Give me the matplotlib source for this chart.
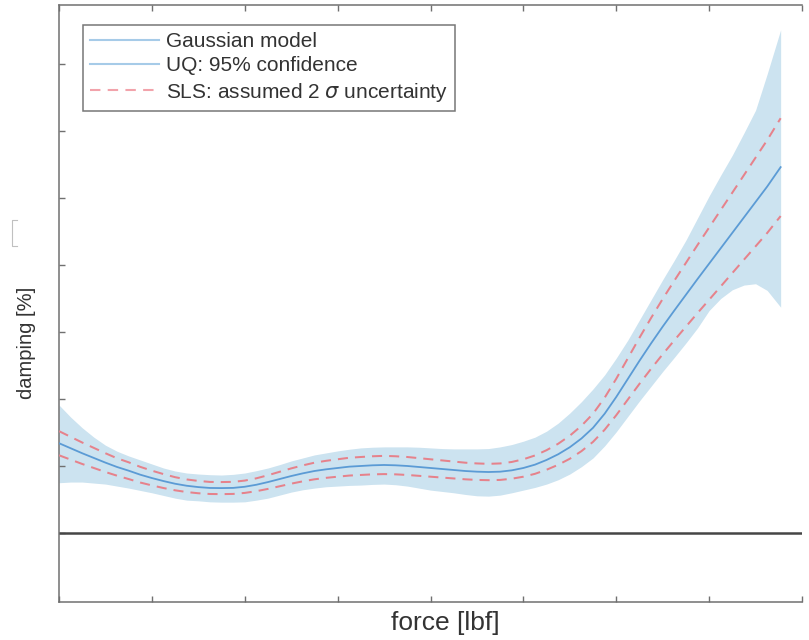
import numpy as np
import matplotlib.pyplot as plt
from matplotlib.lines import Line2D

plt.rcParams['font.family'] = ['Liberation Sans', 'DejaVu Sans']

# force grid (axis units)
force = [0.0, 0.125, 0.25, 0.375, 0.5, 0.625, 0.75, 0.875,
         1.0, 1.125, 1.25, 1.375, 1.5, 1.625, 1.75, 1.875,
         2.0, 2.125, 2.25, 2.375, 2.5, 2.625, 2.75, 2.875,
         3.0, 3.125, 3.25, 3.375, 3.5, 3.625, 3.75, 3.875,
         4.0, 4.125, 4.25, 4.375, 4.5, 4.625, 4.75, 4.875,
         5.0, 5.125, 5.25, 5.375, 5.5, 5.625, 5.75, 5.875,
         6.0, 6.125, 6.25, 6.375, 6.5, 6.625, 6.75, 6.875,
         7.0, 7.125, 7.25, 7.375, 7.5, 7.625, 7.77]
# gaussian model mean
damping_mean = [1.34, 1.265, 1.19, 1.12, 1.05, 0.985, 0.93, 0.87,
                0.82, 0.775, 0.735, 0.705, 0.685, 0.672, 0.67, 0.673,
                0.69, 0.72, 0.76, 0.805, 0.85, 0.89, 0.925, 0.95,
                0.97, 0.99, 1.00, 1.01, 1.015, 1.01, 1.00, 0.985,
                0.97, 0.955, 0.94, 0.925, 0.915, 0.91, 0.915, 0.935,
                0.97, 1.02, 1.09, 1.175, 1.28, 1.41, 1.57, 1.78,
                2.03, 2.30, 2.57, 2.83, 3.08, 3.32, 3.555, 3.79,
                4.02, 4.25, 4.48, 4.71, 4.94, 5.17, 5.46]
# UQ 95% confidence band
uq_upper = [1.91, 1.73, 1.57, 1.43, 1.31, 1.22, 1.15, 1.09,
            1.03, 0.97, 0.925, 0.895, 0.88, 0.87, 0.865, 0.875,
            0.895, 0.93, 0.97, 1.02, 1.075, 1.12, 1.165, 1.195,
            1.225, 1.25, 1.27, 1.28, 1.285, 1.285, 1.285, 1.28,
            1.27, 1.26, 1.255, 1.255, 1.255, 1.26, 1.285, 1.32,
            1.37, 1.43, 1.52, 1.64, 1.79, 1.96, 2.15, 2.36,
            2.61, 2.88, 3.18, 3.48, 3.78, 4.07, 4.37, 4.70,
            5.03, 5.34, 5.64, 5.97, 6.31, 6.85, 7.51]
uq_lower = [0.75, 0.76, 0.76, 0.745, 0.73, 0.70, 0.67, 0.635,
            0.60, 0.56, 0.52, 0.49, 0.48, 0.465, 0.46, 0.46,
            0.465, 0.49, 0.52, 0.565, 0.61, 0.645, 0.67, 0.69,
            0.70, 0.71, 0.715, 0.725, 0.73, 0.72, 0.70, 0.67,
            0.64, 0.62, 0.60, 0.575, 0.555, 0.55, 0.565, 0.60,
            0.64, 0.68, 0.73, 0.795, 0.88, 0.99, 1.12, 1.30,
            1.51, 1.74, 1.97, 2.19, 2.41, 2.62, 2.835, 3.06,
            3.32, 3.50, 3.63, 3.70, 3.72, 3.62, 3.37]
# SLS assumed 2-sigma half width
sls_err = [0.18, 0.17, 0.16, 0.15, 0.14, 0.13, 0.125, 0.117,
           0.11, 0.104, 0.098, 0.094, 0.092, 0.09, 0.09, 0.09,
           0.092, 0.096, 0.102, 0.108, 0.114, 0.119, 0.124, 0.127,
           0.13, 0.133, 0.134, 0.135, 0.136, 0.135, 0.134, 0.132,
           0.13, 0.128, 0.126, 0.124, 0.123, 0.122, 0.123, 0.125,
           0.13, 0.137, 0.146, 0.157, 0.172, 0.189, 0.21, 0.239,
           0.272, 0.308, 0.344, 0.379, 0.413, 0.445, 0.476, 0.508,
           0.539, 0.57, 0.60, 0.631, 0.662, 0.693, 0.73]

x = np.array(force)
mean = np.array(damping_mean)
err = np.array(sls_err)

band_c = '#cce3f0'
mean_c = '#5b9bd5'
sls_c = '#e6828b'
axis_c = '#707070'
dash = (0, (5, 3.5))

fig = plt.figure(figsize=(8.09, 6.4), dpi=100)
ax = fig.add_axes([59 / 809, 38 / 640, 743 / 809, 597 / 640])

ax.fill_between(x, uq_lower, uq_upper, color=band_c, lw=0, zorder=1)
ax.plot(x, mean, color=mean_c, lw=1.3, zorder=3)
ax.plot(x, mean + err, color=sls_c, lw=1.45, ls=dash, zorder=4)
ax.plot(x, mean - err, color=sls_c, lw=1.45, ls=dash, zorder=4)
ax.axhline(0, color='#454545', lw=1.8, zorder=2)

ax.set_xlim(0, 8)
ax.set_ylim(-1.03, 7.88)
ax.set_xticks(np.arange(0, 9))
ax.set_yticks(np.arange(0, 8))
ax.set_xticklabels([])
ax.set_yticklabels([])
ax.tick_params(direction='in', length=4.5, width=1.0, color=axis_c,
               top=True, right=False)
for side in ['left', 'bottom', 'top']:
    ax.spines[side].set_color(axis_c)
    ax.spines[side].set_linewidth(1.1)
ax.spines['right'].set_visible(False)

fig.text(445 / 809, 10 / 640, 'force [lbf]', fontsize=19, color='#333333',
         ha='center', va='baseline')
fig.text(26 / 809, 1 - 343 / 640, 'damping [%]', fontsize=14.5, color='#333333',
         ha='center', va='center', rotation=90)

handles = [
    Line2D([], [], color='#a6cbe8', lw=1.5),
    Line2D([], [], color='#a6cbe8', lw=1.5),
    Line2D([], [], color='#f2a3ab', lw=1.5, ls=dash),
]
labels = ['Gaussian model', 'UQ: 95% confidence', r'SLS: assumed 2 $\sigma$ uncertainty']
leg = ax.legend(handles, labels, loc='upper left', bbox_to_anchor=(0.032, 0.9665),
                borderaxespad=0, fontsize=15, frameon=True, fancybox=False,
                edgecolor='#555555', handlelength=3.3, handletextpad=0.35,
                labelspacing=0.25, borderpad=0.35)
leg.get_frame().set_linewidth(1.1)
for t in leg.get_texts():
    t.set_color('#333333')

# small bracket mark left of the y label
fig.add_artist(Line2D(np.array([17, 12, 12, 17]) / 809,
                      1 - np.array([220, 220, 246, 246]) / 640,
                      color='#c0c0c0', lw=0.8))

fig.savefig('out.png', dpi=100)
